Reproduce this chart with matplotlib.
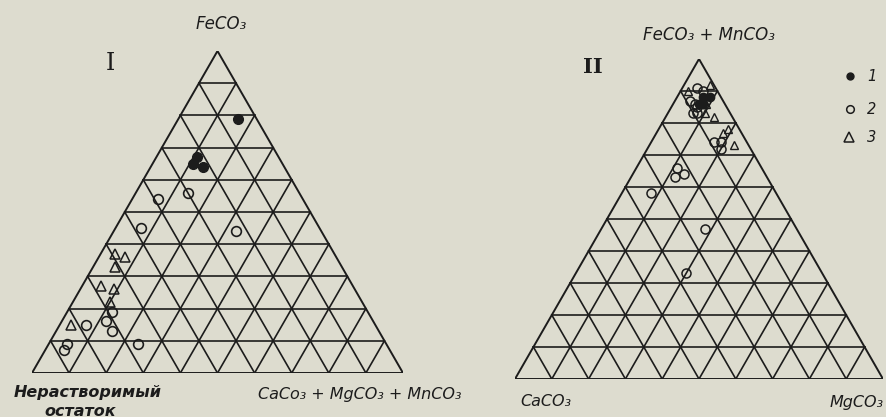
import numpy as np
import matplotlib
matplotlib.use("Agg")
import matplotlib.pyplot as plt

# ---------------- data (percent) ----------------
# Diagram I: components (FeCO3 top, insoluble residue left, CaCO3+MgCO3+MnCO3 right)
I_filled_fe = [79, 67, 65, 64]
I_filled_ins = [5, 22, 24, 22]
I_filled_carb = [16, 11, 11, 14]

I_open_fe = [54, 56, 45, 44, 19, 15, 16, 13, 9, 7, 9]
I_open_ins = [39, 30, 48, 23, 69, 78, 72, 72, 86, 88, 67]
I_open_carb = [7, 14, 7, 33, 12, 7, 12, 15, 5, 5, 24]

I_tri_fe = [37, 36, 33, 27, 26, 22, 15]
I_tri_ins = [59, 57, 61, 68, 65, 68, 82]
I_tri_carb = [4, 7, 6, 5, 9, 10, 3]

# Diagram II: components (FeCO3+MnCO3 top, CaCO3 left, MgCO3 right)
II_filled_femn = [88, 88, 86, 86]
II_filled_ca = [5, 3, 7, 6]
II_filled_mg = [7, 9, 7, 8]

II_open_femn = [91, 90, 87, 86, 83, 83, 85, 74, 74, 72, 66, 64, 63, 58, 47, 33]
II_open_ca = [5, 4, 9, 8, 10, 9, 8, 9, 7, 8, 23, 22, 25, 34, 25, 37]
II_open_mg = [4, 6, 4, 6, 7, 8, 7, 17, 19, 20, 11, 14, 12, 8, 28, 30]

II_tri_femn = [92, 90, 82, 83, 86, 77, 78, 73]
II_tri_ca = [1, 8, 5, 7, 5, 5, 3, 4]
II_tri_mg = [7, 2, 13, 10, 9, 18, 19, 23]

legend_labels = ["1", "2", "3"]
grid_steps = 10

BG = "#dddccf"
INK = "#1c1c1c"
H = np.sqrt(3) / 2


def tern(top, left, right):
    top = np.asarray(top, float)
    left = np.asarray(left, float)
    right = np.asarray(right, float)
    s = top + left + right
    a, c = top / s, right / s
    return c + a / 2, a * H


def draw_grid(ax):
    for i in range(1, grid_steps):
        f = i / grid_steps
        ax.plot([f / 2, 1 - f / 2], [f * H, f * H], color=INK, lw=1.2)
        ax.plot([f, f + (1 - f) / 2], [0, (1 - f) * H], color=INK, lw=1.2)
        ax.plot([1 - f, (1 - f) / 2], [0, (1 - f) * H], color=INK, lw=1.2)
    ax.plot([0, 1, 0.5, 0], [0, 0, H, 0], color=INK, lw=1.4, solid_joinstyle="miter")
    ax.set_xlim(0, 1)
    ax.set_ylim(0, H)
    ax.axis("off")


W, HH = 887, 417
fig = plt.figure(figsize=(W / 100, HH / 100), dpi=100, facecolor=BG)

# diagram I
ax1 = fig.add_axes([32 / W, (HH - 373) / HH, 371 / W, 322 / HH])
draw_grid(ax1)
x, y = tern(I_filled_fe, I_filled_ins, I_filled_carb)
ax1.plot(x, y, "o", ms=7, mfc=INK, mec=INK, clip_on=False)
x, y = tern(I_open_fe, I_open_ins, I_open_carb)
ax1.plot(x, y, "o", ms=7, mfc="none", mec=INK, mew=1.2, clip_on=False)
x, y = tern(I_tri_fe, I_tri_ins, I_tri_carb)
ax1.plot(x, y, "^", ms=6.5, mfc="none", mec=INK, mew=1.1, clip_on=False)

# diagram II
ax2 = fig.add_axes([515 / W, (HH - 379) / HH, 368 / W, 320 / HH])
draw_grid(ax2)
x, y = tern(II_open_femn, II_open_ca, II_open_mg)
ax2.plot(x, y, "o", ms=6.5, mfc="none", mec=INK, mew=1.1, clip_on=False)
x, y = tern(II_tri_femn, II_tri_ca, II_tri_mg)
ax2.plot(x, y, "^", ms=6, mfc="none", mec=INK, mew=1.0, clip_on=False)
x, y = tern(II_filled_femn, II_filled_ca, II_filled_mg)
ax2.plot(x, y, "o", ms=6, mfc=INK, mec=INK, clip_on=False)

# legend (diagram II)
leg_ax = fig.add_axes([0, 0, 1, 1], facecolor="none")
leg_ax.set_xlim(0, W)
leg_ax.set_ylim(HH, 0)
leg_ax.axis("off")
leg_y = [76, 109, 137]
leg_ax.plot([850], [leg_y[0]], "o", ms=5, mfc=INK, mec=INK)
leg_ax.plot([850], [leg_y[1]], "o", ms=5.5, mfc="none", mec=INK, mew=1.1)
leg_ax.plot([849], [leg_y[2]], "^", ms=6.5, mfc="none", mec=INK, mew=1.1)
for lab, ly in zip(legend_labels, leg_y):
    leg_ax.text(872, ly, lab, ha="center", va="center", fontsize=10.5,
                style="italic", color=INK, family="DejaVu Sans")

lab_kw = dict(style="italic", color=INK, family=["Liberation Sans Narrow", "DejaVu Sans"],
              fontsize=11.5, ha="center", va="center")


def ftext(px, py, s, **kw):
    d = dict(lab_kw)
    d.update(kw)
    fig.text(px / W, 1 - py / HH, s, **d)


ftext(221, 24, "FeCO₃", fontsize=12)
ftext(709, 35, "FeCO₃ + MnCO₃", fontsize=12)
ftext(88, 393, "Нерастворимый", weight="bold", fontsize=11.5)
ftext(80, 411, "остаток", weight="bold", fontsize=11.5)
ftext(360, 394, "CaCo₃ + MgCO₃ + MnCO₃")
ftext(546, 402, "CaCO₃")
ftext(857, 402, "MgCO₃")
fig.text(110 / W, 1 - 64 / HH, "I", family="DejaVu Serif", fontsize=17, color=INK,
         ha="center", va="center")
fig.text(593 / W, 1 - 67 / HH, "II", family="DejaVu Serif", fontsize=15, color=INK,
         ha="center", va="center", weight="bold")

fig.savefig("out.png", dpi=100, facecolor=BG)
